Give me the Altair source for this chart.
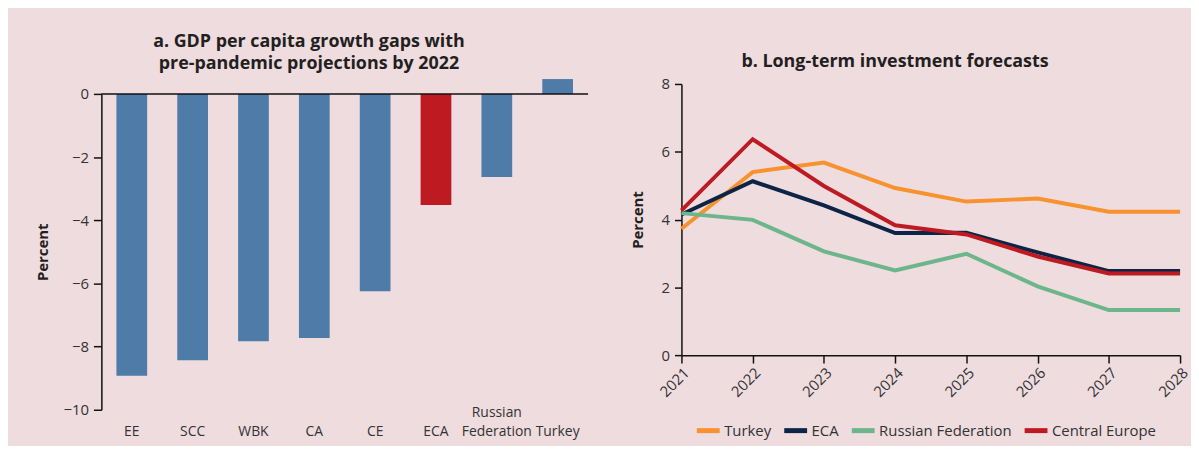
import altair as alt
import pandas as pd

# ---- Panel a data ----
regions = ["EE", "SCC", "WBK", "CA", "CE", "ECA", "Russian Federation", "Turkey"]
gaps = [-8.92, -8.43, -7.83, -7.73, -6.25, -3.52, -2.63, 0.47]
highlight = ["no", "no", "no", "no", "no", "yes", "no", "no"]

# ---- Panel b data ----
years = ["2021", "2022", "2023", "2024", "2025", "2026", "2027", "2028"]
series_names = ["Turkey", "ECA", "Russian Federation", "Central Europe"]
turkey = [3.73, 5.40, 5.68, 4.93, 4.53, 4.62, 4.23, 4.23]
eca = [4.15, 5.13, 4.42, 3.60, 3.61, 3.03, 2.48, 2.48]
russia = [4.19, 3.99, 3.06, 2.50, 2.99, 2.03, 1.33, 1.33]
central = [4.27, 6.37, 4.99, 3.83, 3.56, 2.91, 2.41, 2.41]
series_colors = ["#F7922E", "#0E2446", "#6DB58B", "#BE1A22"]

TEXT = "#231F20"
LABEL = "#333333"
FONT = "Open Sans"

bar_df = pd.DataFrame({"region": regions, "gap": gaps, "hl": highlight})

LH = 328  # left plot group height
bars = alt.Chart(bar_df).mark_bar().encode(
    x=alt.X(
        "region:N",
        sort=regions,
        scale=alt.Scale(paddingInner=0.495, paddingOuter=0.2475),
        axis=alt.Axis(
            title=None, labelAngle=0, domain=False, ticks=False, tickSize=0,
            labelPadding=3, labelBaseline="middle", labelFontSize=14,
            labelColor=LABEL, labelLineHeight=19,
            labelExpr="datum.label == 'Russian Federation' ? ['Russian', 'Federation'] : ['', datum.label]",
        ),
    ),
    y=alt.Y(
        "gap:Q",
        scale=alt.Scale(domain=[-10, 0], nice=False, zero=False, range=[LH, 10]),
        axis=alt.Axis(
            title="Percent", values=[-10, -8, -6, -4, -2, 0], grid=False,
            tickSize=8, labelPadding=5, titlePadding=12, labelFontSize=15,
        ),
    ),
    color=alt.condition(alt.datum.hl == "yes", alt.value("#BE1A22"), alt.value("#4E7BA7")),
)
zero_line = alt.Chart(pd.DataFrame({"gap": [0]})).mark_rule(
    color="#111111", strokeWidth=1.5
).encode(y="gap:Q")

left = alt.layer(bars, zero_line).properties(
    width=490, height=LH,
    title=alt.TitleParams(
        ["a. GDP per capita growth gaps with", "pre-pandemic projections by 2022"],
        offset=6, dx=-36, frame="group",
    ),
)

rows = []
for name, vals in zip(series_names, [turkey, eca, russia, central]):
    for y, v in zip(years, vals):
        rows.append({"year": y, "series": name, "value": v})
line_df = pd.DataFrame(rows)

lines = alt.Chart(line_df).mark_line(strokeWidth=4).encode(
    x=alt.X(
        "year:O",
        scale=alt.Scale(padding=0),
        axis=alt.Axis(title=None, labelAngle=-45, tickSize=8, labelFontSize=15,
                      labelPadding=2),
    ),
    y=alt.Y(
        "value:Q",
        scale=alt.Scale(domain=[0, 8], nice=False),
        axis=alt.Axis(title="Percent", values=[0, 2, 4, 6, 8], grid=False,
                      tickSize=7, labelPadding=5, titlePadding=16, labelFontSize=15),
    ),
    color=alt.Color(
        "series:N",
        sort=series_names,
        scale=alt.Scale(domain=series_names, range=series_colors),
        legend=alt.Legend(
            title=None, orient="none", direction="horizontal",
            legendX=13, legendY=335, padding=0,
            symbolType="stroke", symbolStrokeWidth=5, symbolSize=529,
            labelFontSize=15, labelColor=LABEL, labelOffset=2,
            columnPadding=2,
        ),
    ),
)

right = lines.properties(
    width=502, height=273,
    title=alt.TitleParams("b. Long-term investment forecasts", offset=6, dx=-36, frame="group"),
)

chart = alt.hconcat(left, right, spacing=41).resolve_scale(
    color="independent"
).resolve_legend(
    color="independent"
).properties(
    background="#EEDCDF",
    padding={"left": 28, "top": 24, "right": 0, "bottom": 4},
).configure(
    font=FONT,
).configure_view(
    stroke=None,
).configure_axis(
    domainColor="#111111", tickColor="#111111", domainWidth=1.5, tickWidth=1.5,
    labelColor=LABEL, labelFont=FONT,
    titleFontSize=15, titleFontWeight="bold", titleColor=TEXT, titleFont=FONT,
).configure_title(
    fontSize=18, fontWeight="bold", color=TEXT, lineHeight=22, anchor="middle", font=FONT,
).configure_legend(
    labelFont=FONT,
)

chart.save("out.html", embed_options={"renderer": "svg", "actions": False})
